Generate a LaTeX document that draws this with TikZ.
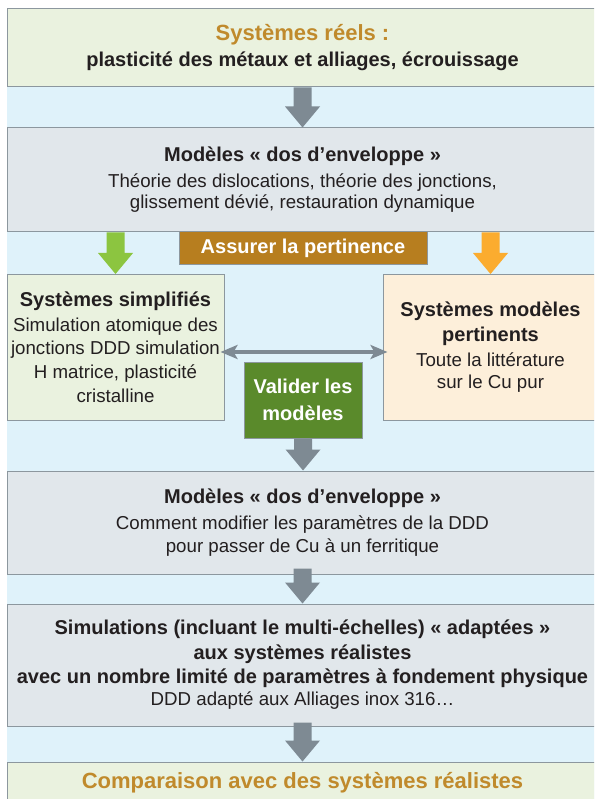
\documentclass[tikz,border=0pt]{standalone}
\usepackage{fontspec}
\setmainfont{Liberation Sans}
\usetikzlibrary{calc,arrows.meta}
\definecolor{bandblue}{HTML}{DFF2FA}
\definecolor{topgreen}{HTML}{EAF2DF}
\definecolor{boxgrey}{HTML}{E1E7EB}
\definecolor{edgegrey}{HTML}{8C979E}
\definecolor{arrowgrey}{HTML}{7E8A93}
\definecolor{arrowgreen}{HTML}{8CC540}
\definecolor{arroworange}{HTML}{FBAC2F}
\definecolor{brownfill}{HTML}{B77E1F}
\definecolor{darkgreen}{HTML}{5A8A2B}
\definecolor{peach}{HTML}{FDEFDA}
\definecolor{goldtext}{HTML}{C08A2C}
\definecolor{inktext}{HTML}{231F20}
\newcommand\ttlfont{\fontsize{22}{24}\selectfont\bfseries\color{goldtext}}
\newcommand\bdfont{\fontsize{20}{24}\selectfont\bfseries}
\newcommand\blockarrow[3]{\fill[#1] ($(#2)+(-9,0)$) -- ($(#3)+(-9,-21)$) -- ($(#3)+(-17.5,-21)$) -- (#3) -- ($(#3)+(17.5,-21)$) -- ($(#3)+(9,-21)$) -- ($(#2)+(9,0)$) -- cycle;}
\begin{document}
\begin{tikzpicture}[x=1pt,y=-1pt,
  box/.style={draw=edgegrey,line width=1pt,inner sep=0pt,align=center,text=inktext,
    font=\fontsize{18.7}{24}\selectfont},
  dblarrow/.style={arrowgrey,line width=4pt,
    {Stealth[length=17pt,width=14pt,inset=4pt]}-{Stealth[length=17pt,width=14pt,inset=4pt]}}]
\useasboundingbox (0,0) rectangle (594,799);
\clip (0,0) rectangle (594,799);
\fill[bandblue] (7,87) rectangle (610,820);

\node[box,fill=topgreen,minimum width=591pt,minimum height=78pt] (top) at (302.5,48)
  {{\ttlfont Systèmes réels :}\\[2pt]{\bdfont plasticité des métaux et alliages, écrouissage}};

\node[box,fill=boxgrey,minimum width=591pt,minimum height=104pt] (box2) at (302.5,180)
  {{\bdfont Modèles « dos d’enveloppe »}\\[2pt]Théorie des dislocations, théorie des jonctions,\\[-3pt]glissement dévié, restauration dynamique};

\node[box,fill=brownfill,text=white,minimum width=248pt,minimum height=32pt] (assur) at (303,248)
  {\bdfont Assurer la pertinence};

\node[box,fill=topgreen,minimum width=217pt,minimum height=145.5pt] (leftbox) at (115.5,347.25)
  {{\bdfont Systèmes simplifiés}\\[1pt]Simulation atomique des\\[-1pt]jonctions DDD simulation\\H matrice, plasticité\\cristalline};

\node[box,fill=peach,minimum width=215pt,minimum height=145.5pt] (rightbox) at (490.5,347.25)
  {{\bdfont Systèmes modèles}\\[1pt]{\bdfont pertinents}\\[1pt]Toute la littérature\\[-2pt]sur le Cu pur};

\node[box,fill=darkgreen,text=white,minimum width=118pt,minimum height=76pt] (valider) at (303,400)
  {{\bdfont Valider les}\\[3pt]{\bdfont modèles}};

\node[box,fill=boxgrey,minimum width=591pt,minimum height=103pt] (box3) at (302.5,522.5)
  {{\bdfont Modèles « dos d’enveloppe »}\\[2pt]Comment modifier les paramètres de la DDD\\[-1pt]pour passer de Cu à un ferritique};

\node[box,fill=boxgrey,minimum width=591pt,minimum height=122pt] (box4) at (302.5,665)
  {{\bdfont Simulations (incluant le multi-échelles) « adaptées »}\\[1pt]{\bdfont aux systèmes réalistes}\\{\bdfont avec un nombre limité de paramètres à fondement physique}\\[-2pt]DDD adapté aux Alliages inox 316…};

\node[box,fill=topgreen,minimum width=591pt,minimum height=42pt] (box5) at (302.5,783)
  {{\ttlfont Comparaison avec des systèmes réalistes}};

\blockarrow{arrowgrey}{top.south}{box2.north}
\coordinate (gs) at (box2.south -| leftbox.north);
\blockarrow{arrowgreen}{gs}{leftbox.north}
\coordinate (os) at (box2.south -| rightbox.north);
\blockarrow{arroworange}{os}{rightbox.north}
\coordinate (vt) at (valider.south |- box3.north);
\blockarrow{arrowgrey}{valider.south}{vt}
\coordinate (b3s) at ([yshift=6pt]box3.south);
\blockarrow{arrowgrey}{b3s}{box4.north}
\coordinate (b4s) at ([yshift=4pt]box4.south);
\blockarrow{arrowgrey}{b4s}{box5.north}

\coordinate (da) at ([yshift=-4.75pt]leftbox.east);
\coordinate (db) at (da -| rightbox.west);
\draw[dblarrow,shorten <=-4pt,shorten >=-5pt] (da) -- (db);
\end{tikzpicture}
\end{document}
